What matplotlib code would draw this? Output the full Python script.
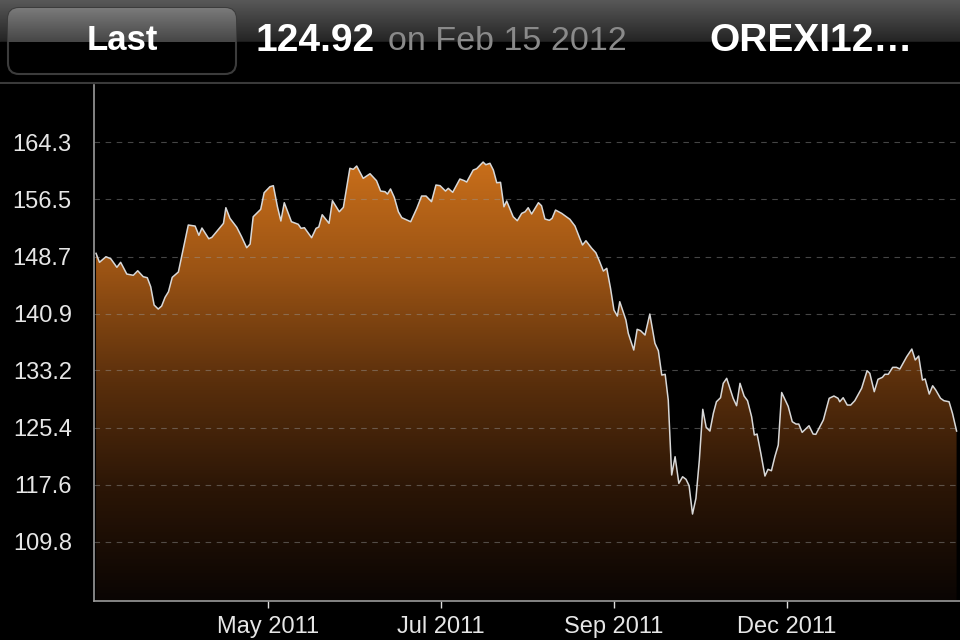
import numpy as np
import matplotlib.pyplot as plt
from matplotlib.colors import LinearSegmentedColormap
from matplotlib.patches import FancyBboxPatch

plt.rcParams['font.family'] = ['Liberation Sans', 'DejaVu Sans']

# trading-day index since Feb 15 2011 and closing value
days = [0, 1.0, 2.9, 4.3, 6.1, 7.2, 9.0, 10.9, 12.2, 13.8, 15.0, 16.0, 17.0, 18.2, 19.2,
        20.2, 21.2, 22.3, 24.1, 27.0, 29.0, 30.1, 31.0, 33.0, 33.9, 37.3, 38.0, 39.2,
        41.2, 42.6, 44.1, 45.1, 46.0, 48.2, 49.2, 50.9, 51.9, 53.1, 54.1, 55.1, 57.2,
        59.2, 60.0, 61.0, 63.1, 64.4, 65.2, 66.2, 68.2, 69.2, 71.2, 72.4, 74.3,
        75.3, 76.3, 78.2, 80.2, 82.1, 83.3, 84.6, 85.3, 86.2, 87.3, 88.5, 89.5, 92.1,
        93.9, 95.3, 96.6, 98.2, 99.5, 100.7, 102.3, 103.1, 104.4, 106.5, 107.8, 108.5,
        110.4, 111.4, 113.3, 114.1, 115.3, 116.3, 117.3, 118.4, 119.4, 120.2, 122.1,
        123.3, 124.6, 125.6, 126.5, 127.5, 129.5, 130.4, 131.4, 132.7, 133.5, 134.5,
        136.3, 138.7, 140.2, 141.6, 142.4, 143.4, 145.1, 146.3, 147.3, 148.5, 149.5,
        150.6, 151.6, 152.6, 153.3,
        155.1, 155.8, 157.4, 158.4, 159.4, 160.7, 162.1, 163.6, 164.6, 165.6, 166.6,
        167.5, 168.5, 169.5, 170.6, 171.7, 172.7, 173.6, 174.6, 175.6, 176.6, 177.6,
        178.6, 179.7, 180.7, 181.6, 182.8, 183.6, 184.6, 186.5, 187.5, 188.5, 189.7,
        190.7, 191.9, 192.7, 193.5, 194.6, 195.8, 196.7, 197.7, 198.7, 199.7, 200.7,
        202.6, 203.8, 204.9, 205.7, 206.7, 208.7, 209.9, 210.7, 212.9, 214.6, 216.0,
        217.2, 217.7, 218.7, 219.9, 220.9, 222.1, 224.1, 225.7, 226.5, 227.8, 228.9,
        230.2, 230.9, 231.9, 233.2, 234.3, 235.3, 237.3, 238.8, 239.8, 240.8, 241.9,
        242.7, 243.9, 244.9, 245.8, 247.2, 248.2, 249.7, 250.7, 251.9]
prices = [149.13, 147.91, 148.67, 148.40, 147.23, 147.91, 146.31, 146.14, 146.76, 145.95,
          145.81, 144.58, 142.09, 141.54, 141.95, 143.14, 143.90, 145.86, 146.59, 152.99,
          152.85, 151.59, 152.58, 151.12, 151.31, 153.22, 155.35, 153.90, 152.68, 151.40,
          149.90, 150.40, 154.12, 155.13, 157.39, 158.21, 158.35, 155.48, 153.54, 156.03,
          153.44, 153.09, 152.54, 152.62, 151.26, 152.54, 152.72, 154.39, 153.22, 156.30,
          154.80, 155.40, 160.72,
          160.58, 161.03, 159.35, 159.98, 159.03, 157.62, 157.53, 157.21, 157.90, 156.76,
          154.80, 153.99, 153.44, 155.27, 156.94, 156.94, 156.17, 158.44, 158.35, 157.62,
          157.99, 157.45, 159.26, 159.03, 158.85, 160.48, 160.66, 161.57, 161.21, 161.40,
          160.48, 158.75, 158.81, 155.48, 156.26, 154.12, 153.58, 154.58, 154.80, 155.35,
          154.49, 156.03, 155.62, 153.81, 153.63, 153.90, 155.03, 154.58, 153.77, 152.85,
          151.18, 150.27, 150.85, 149.82, 149.22, 148.13, 146.72, 147.09, 144.37, 141.41,
          140.59, 142.54,
          140.05, 138.23, 135.96, 138.78, 138.59, 138.00, 140.86, 136.87, 135.86, 132.55,
          132.65, 129.14, 118.93, 121.42, 117.79, 118.69, 118.34, 117.47, 113.61, 115.75,
          120.97, 127.88, 125.43, 124.92, 127.33, 128.91, 129.46, 131.42, 132.10, 129.38,
          128.37, 131.42, 129.69, 129.05, 126.87, 124.38, 124.51, 121.88, 118.79, 119.70,
          119.51, 121.42, 123.01, 130.17, 128.29, 126.19, 125.87, 125.87, 124.74, 125.64,
          124.51, 124.47, 126.42, 129.38, 129.69, 129.38, 128.91, 129.46, 128.46, 128.46,
          129.05, 130.74, 133.14, 132.78, 130.28, 131.97, 132.24, 132.65, 132.65, 133.60,
          133.60, 133.37, 135.05, 136.09, 134.60, 135.14, 131.87, 132.01, 129.96, 131.09,
          130.51, 129.38, 129.05, 128.91, 127.33, 124.92]

y_ticks = [109.8, 117.6, 125.4, 133.2, 140.9, 148.7, 156.5, 164.3]
x_tick_pos = [50.3, 101.0, 151.6, 202.2]
x_tick_labels = ['May 2011', 'Jul 2011', 'Sep 2011', 'Dec 2011']

last_value = '124.92'
last_date = 'on Feb 15 2012'
symbol = 'OREXI12\u2026'

ymin, ymax = 101.76, 172.07
xmin, xmax = -0.6, 252.9

fig = plt.figure(figsize=(9.6, 6.4), dpi=100, facecolor='black')

# ---- header bar
hd = fig.add_axes([0, 1 - 84 / 640, 1, 84 / 640])
hd.set_xlim(0, 960)
hd.set_ylim(84, 0)
hd.axis('off')
g = np.linspace(0, 1, 64).reshape(-1, 1)
head_cmap = LinearSegmentedColormap.from_list('h', ['#585858', '#242424'])
hd.imshow(g, extent=[0, 960, 42, 0], aspect='auto', cmap=head_cmap, zorder=0)
hd.add_patch(plt.Rectangle((0, 42), 960, 40, color='black', zorder=0))
hd.plot([0, 960], [82.5, 82.5], color='#3a3a3a', lw=1.5, zorder=1)

btn = FancyBboxPatch((8, 8), 228, 66, boxstyle='round,pad=0,rounding_size=11',
                     facecolor='black', edgecolor='#3c3c3c', lw=1.5, zorder=2)
hd.add_patch(btn)
btn_cmap = LinearSegmentedColormap.from_list('b', ['#7a7a7a', '#464646'])
bim = hd.imshow(g, extent=[8, 236, 42, 8], aspect='auto', cmap=btn_cmap, zorder=3)
bim.set_clip_path(btn)
hd.text(122, 41, 'Last', color='white', fontsize=25, fontweight='bold',
        ha='center', va='center', zorder=4)
hd.text(256, 41, last_value, color='white', fontsize=28, fontweight='bold',
        ha='left', va='center')
hd.text(388, 42, last_date, color='#8a8a8a', fontsize=24.5, ha='left', va='center')
hd.text(709, 41, symbol, color='white', fontsize=28, fontweight='bold',
        ha='left', va='center')

# ---- chart
ax = fig.add_axes([94 / 960, 39 / 640, 866 / 960, 516 / 640])
ax.set_facecolor('black')
ax.set_xlim(xmin, xmax)
ax.set_ylim(ymin, ymax)

fill_cmap = LinearSegmentedColormap.from_list(
    'f', ['#0a0503', '#2a1506', '#5a2f0c', '#9a5314', '#c86e1a'])
grad = np.linspace(1, 0, 256).reshape(-1, 1)
poly = ax.fill_between(days, prices, ymin, facecolor='none', edgecolor='none')
im = ax.imshow(grad, extent=[xmin, xmax, ymin, max(prices)], aspect='auto',
               cmap=fill_cmap, origin='upper', zorder=1)
im.set_clip_path(poly.get_paths()[0], transform=ax.transData)
ax.plot(days, prices, color='#d8d8d8', lw=1.1, zorder=3)

for v in y_ticks:
    ax.axhline(v, color='#9a9a9a', alpha=0.45, lw=0.8, ls=(0, (5, 5)), zorder=2)

ax.set_yticks(y_ticks)
ax.set_yticklabels([f'{v:.1f}' for v in y_ticks])
ax.set_xticks(x_tick_pos)
ax.set_xticklabels(x_tick_labels)
ax.tick_params(axis='y', length=0, pad=16, labelsize=17, labelcolor='#e6e6e6')
ax.tick_params(axis='x', length=5, width=1, color='#dddddd', pad=6,
               labelsize=17, labelcolor='#e6e6e6')
for s in ['top', 'right']:
    ax.spines[s].set_visible(False)
ax.spines['left'].set_color('#9a9a9a')
ax.spines['bottom'].set_color('#9a9a9a')
ax.spines['left'].set_linewidth(1.2)
ax.spines['bottom'].set_linewidth(1.2)

fig.savefig('out.png', dpi=100, facecolor='black')
